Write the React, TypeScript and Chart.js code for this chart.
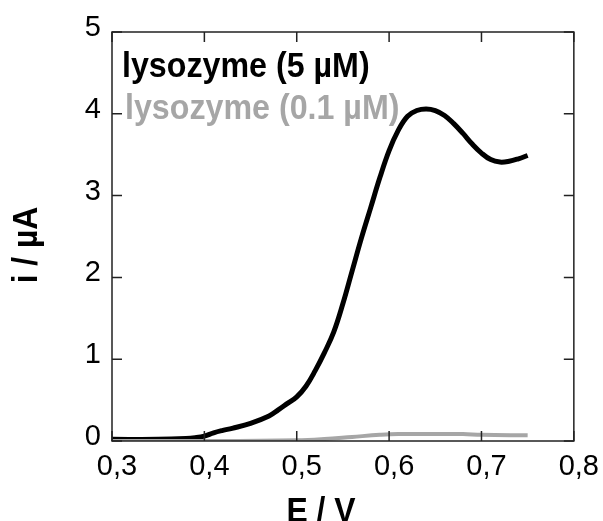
import React, { useEffect, useRef } from "react";
import { Chart, registerables } from "chart.js";

Chart.register(...registerables);

const xTickLabels = ["0,3", "0,4", "0,5", "0,6", "0,7", "0,8"];
const yTickLabels = ["0", "1", "2", "3", "4", "5"];

const highE = [0.30, 0.35, 0.38, 0.39, 0.40, 0.41, 0.42, 0.43, 0.45, 0.47, 0.48, 0.49, 0.50, 0.51, 0.52, 0.53, 0.54, 0.55, 0.56, 0.57, 0.58, 0.59, 0.60, 0.61, 0.62, 0.63, 0.64, 0.65, 0.66, 0.67, 0.68, 0.69, 0.70, 0.71, 0.72, 0.73, 0.74, 0.75];
const highI = [0.02, 0.02, 0.03, 0.04, 0.06, 0.10, 0.13, 0.155, 0.215, 0.305, 0.38, 0.46, 0.54, 0.67, 0.86, 1.08, 1.33, 1.68, 2.08, 2.48, 2.85, 3.22, 3.55, 3.80, 3.97, 4.04, 4.06, 4.04, 3.98, 3.88, 3.76, 3.63, 3.52, 3.44, 3.41, 3.42, 3.45, 3.49];

const lowE = [0.30, 0.40, 0.50, 0.53, 0.56, 0.59, 0.61, 0.65, 0.68, 0.70, 0.75];
const lowI = [0.0, 0.0, 0.01, 0.025, 0.05, 0.075, 0.085, 0.085, 0.085, 0.075, 0.07];

const seriesNames = ["lysozyme (5 µM)", "lysozyme (0.1 µM)"];
const seriesColors = ["#000000", "#a6a6a6"];
const xTitle = "E / V";
const yTitle = "i / µA";

const FONT = "'Liberation Sans', Arial, sans-serif";

function condensedText(ctx: CanvasRenderingContext2D, text: string, x: number, y: number, sx: number) {
  ctx.save();
  ctx.translate(x, y);
  ctx.scale(sx, 1);
  ctx.fillText(text, 0, 0);
  ctx.restore();
}

const framePlugin = {
  id: "frame",
  afterDraw(chart: any) {
    const ctx: CanvasRenderingContext2D = chart.ctx;
    const { left, right, top, bottom } = chart.chartArea;
    const xs = chart.scales.x;
    const ys = chart.scales.y;
    ctx.save();
    ctx.strokeStyle = "#222";
    ctx.lineWidth = 1.5;
    ctx.strokeRect(left, top, right - left, bottom - top);
    const tl = 10;
    ctx.beginPath();
    xs.ticks.forEach((t: any) => {
      const px = xs.getPixelForValue(t.value);
      ctx.moveTo(px, bottom);
      ctx.lineTo(px, bottom - tl);
      ctx.moveTo(px, top);
      ctx.lineTo(px, top + tl);
    });
    ys.ticks.forEach((t: any) => {
      const py = ys.getPixelForValue(t.value);
      ctx.moveTo(left, py);
      ctx.lineTo(left + tl, py);
      ctx.moveTo(right, py);
      ctx.lineTo(right - tl, py);
    });
    ctx.stroke();

    // legend texts
    ctx.font = `bold 35px ${FONT}`;
    ctx.textBaseline = "alphabetic";
    ctx.textAlign = "left";
    ctx.fillStyle = seriesColors[0];
    condensedText(ctx, seriesNames[0], left + 10, 77, 0.92);
    ctx.fillStyle = seriesColors[1];
    condensedText(ctx, seriesNames[1], left + 13, 119, 0.92);

    // axis titles
    ctx.fillStyle = "#000";
    ctx.textAlign = "center";
    condensedText(ctx, xTitle, 321, 522, 0.91);
    ctx.save();
    ctx.translate(37, 245);
    ctx.rotate(-Math.PI / 2);
    ctx.scale(0.91, 1);
    ctx.fillText(yTitle, 0, 0);
    ctx.restore();
    ctx.restore();
  },
};

export default function App() {
  const ref = useRef<HTMLCanvasElement>(null);
  useEffect(() => {
    if (!ref.current) return;
    const chart = new Chart(ref.current, {
      type: "line",
      data: {
        datasets: [
          {
            label: seriesNames[1],
            data: lowE.map((e, i) => ({ x: e, y: lowI[i] })),
            borderColor: seriesColors[1],
            borderWidth: 4,
            pointRadius: 0,
            tension: 0.4,
            fill: false,
          },
          {
            label: seriesNames[0],
            data: highE.map((e, i) => ({ x: e, y: highI[i] })),
            borderColor: seriesColors[0],
            borderWidth: 5,
            pointRadius: 0,
            tension: 0.4,
            fill: false,
          },
        ],
      },
      options: {
        responsive: false,
        animation: false,
        layout: { padding: { top: 32, right: 26, left: 0, bottom: 0 } },
        plugins: { legend: { display: false }, tooltip: { enabled: false } },
        scales: {
          x: {
            type: "linear",
            min: 0.3,
            max: 0.8,
            grid: { display: false, drawTicks: false },
            border: { display: false },
            ticks: {
              stepSize: 0.1,
              color: "#000",
              padding: 9,
              labelOffset: 5,
              font: { family: FONT, size: 29 },
              callback: (_v: any, i: number) => xTickLabels[i],
            },
            afterFit: (s: any) => {
              s.height = 80;
            },
          },
          y: {
            type: "linear",
            min: 0,
            max: 5,
            grid: { display: false, drawTicks: false },
            border: { display: false },
            ticks: {
              stepSize: 1,
              color: "#000",
              padding: 11,
              labelOffset: -4,
              font: { family: FONT, size: 29 },
              callback: (_v: any, i: number) => yTickLabels[i],
            },
            afterFit: (s: any) => {
              s.width = 112;
            },
          },
        },
      },
      plugins: [framePlugin],
    });
    return () => chart.destroy();
  }, []);
  return (
    <div style={{ position: "fixed", left: 0, top: 0, width: 603, height: 521, background: "#fff" }}>
      <canvas ref={ref} width={603} height={521} style={{ display: "block" }} />
    </div>
  );
}
